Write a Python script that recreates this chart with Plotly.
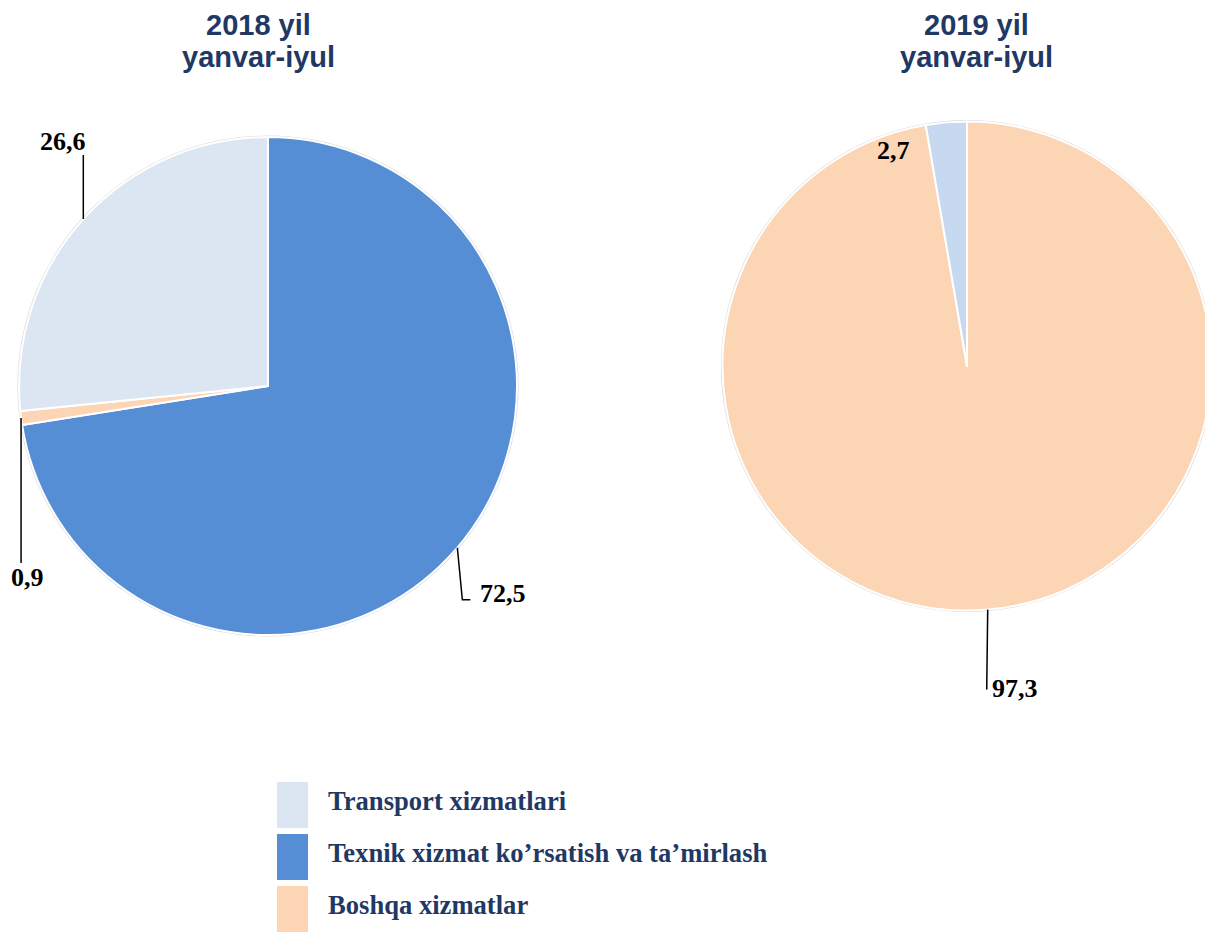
import math
import plotly.graph_objects as go

# the page adds an 8px body margin, so the figure is 8px smaller and coords are shifted
OFF = 8
W, H = 1213 - OFF, 932 - OFF

# ---- data ----
categories = ["Transport xizmatlari",
              "Texnik xizmat ko’rsatish va ta’mirlash",
              "Boshqa xizmatlar"]
titles = ["2018 yil", "2019 yil"]
subtitle = "yanvar-iyul"

labels_2018 = ["Texnik xizmat ko’rsatish va ta’mirlash", "Boshqa xizmatlar", "Transport xizmatlari"]
values_2018 = [72.5, 0.9, 26.6]
labels_2019 = ["Boshqa xizmatlar", "Transport xizmatlari"]
values_2019 = [97.3, 2.7]

# ---- style ----
cat_colors = {"Transport xizmatlari": "#DCE6F2",
              "Texnik xizmat ko’rsatish va ta’mirlash": "#558ED5",
              "Boshqa xizmatlar": "#FCD5B5"}
colors_2019 = ["#FCD5B5", "#C6D9F1"]
navy = "#1F3864"
serif = "Liberation Serif, Times New Roman, serif"
sans = "Liberation Sans, Arial, sans-serif"

# pie geometry in page pixels: centre x, centre y, radius
pies = [(268, 386, 249), (967, 366, 244.5)]
title_x = [258, 976]

# label placement relative to the slice-edge point: leader-line points, text offset, anchor
label_specs_2018 = [
    dict(line=[(5, 52), (13, 52)], text=(21, 46), anchor="left"),
    dict(line=[(0, 145)], text=(6, 160), anchor="center"),
    dict(line=[(0, -64)], text=(5, -77), anchor="right"),
]
label_specs_2019 = [
    dict(line=[(-1, 80)], text=(2, 79), anchor="left"),
    dict(line=[], text=(-53, 28), anchor="center"),
]


def px(x, y):
    return (x - OFF) / W, 1 - (y - OFF) / H


def clamp(a, b):
    return [max(0.0, a), min(1.0, b)]


fig = go.Figure()
shapes, annotations = [], []

datasets = [(labels_2018, values_2018, [cat_colors[l] for l in labels_2018], label_specs_2018),
            (labels_2019, values_2019, colors_2019, label_specs_2019)]

for i, (labs, vals, cols, specs) in enumerate(datasets):
    cx, cy, r = pies[i]
    x0, y1 = px(cx - r, cy - r)
    x1, y0 = px(cx + r, cy + r)
    # faint outline behind the pie
    fig.add_trace(go.Pie(values=[1], labels=[""], sort=False, textinfo="none", hoverinfo="skip",
                         marker=dict(colors=["#D9D9D9"]), showlegend=False,
                         domain=dict(x=clamp(x0 - 1.5 / W, x1 + 1.5 / W),
                                     y=clamp(y0 - 1.5 / H, y1 + 1.5 / H))))
    fig.add_trace(go.Pie(labels=labs, values=vals, sort=False, direction="clockwise", rotation=0,
                         textinfo="none", showlegend=False,
                         marker=dict(colors=cols, line=dict(color="white", width=2)),
                         domain=dict(x=[x0, x1], y=[y0, y1])))

    total = sum(vals)
    cum = 0
    for v, spec in zip(vals, specs):
        mid = (cum + v / 2) / total * 2 * math.pi
        cum += v
        ax = cx + r * math.sin(mid)
        ay = cy - r * math.cos(mid)
        if spec["line"]:
            pts = [(ax, ay)] + [(ax + dx, ay + dy) for dx, dy in spec["line"]]
            path = "M " + " L ".join(f"{px(x, y)[0]:.5f},{px(x, y)[1]:.5f}" for x, y in pts)
            shapes.append(dict(type="path", path=path, xref="paper", yref="paper",
                               line=dict(color="black", width=1.5)))
        tx, ty = px(ax + spec["text"][0], ay + spec["text"][1])
        annotations.append(dict(x=tx, y=ty, xref="paper", yref="paper", showarrow=False,
                                text=f"<b>{v:.1f}</b>".replace(".", ","),
                                xanchor=spec["anchor"], yanchor="middle",
                                font=dict(family=serif, size=26, color="black")))

    # titles
    for line_text, ly in [(titles[i], 25), (subtitle, 57)]:
        tx, ty = px(title_x[i], ly)
        annotations.append(dict(x=tx, y=ty, xref="paper", yref="paper", showarrow=False,
                                text=f"<b>{line_text}</b>", xanchor="center", yanchor="middle",
                                font=dict(family=sans, size=29, color=navy)))

# legend drawn by hand with large swatches
for k, cat in enumerate(categories):
    top = 782 + k * 52
    sx0, sy1 = px(277, top)
    sx1, sy0 = px(308, top + 46)
    shapes.append(dict(type="rect", xref="paper", yref="paper", x0=sx0, x1=sx1, y0=sy0, y1=sy1,
                       fillcolor=cat_colors[cat], line=dict(width=0)))
    tx, ty = px(326, top + 19)
    annotations.append(dict(x=tx, y=ty, xref="paper", yref="paper", showarrow=False,
                            text=f"<b>{cat}</b>", xanchor="left", yanchor="middle",
                            font=dict(family=serif, size=26.6, color=navy)))

fig.update_layout(width=W, height=H, margin=dict(l=0, r=0, t=0, b=0),
                  paper_bgcolor="white", plot_bgcolor="white",
                  shapes=shapes, annotations=annotations, showlegend=False)

fig.write_html("out.html")
